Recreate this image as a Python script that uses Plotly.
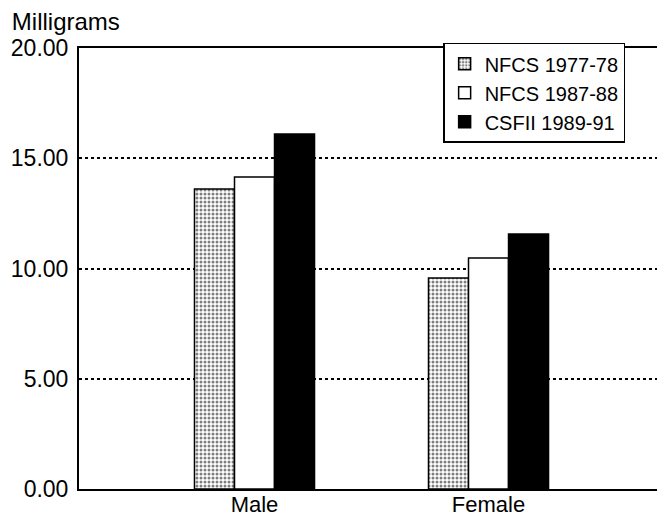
import plotly.graph_objects as go

categories = ["Male", "Female"]
series_names = ["NFCS 1977-78", "NFCS 1987-88", "CSFII 1989-91"]
nfcs_7778 = [13.6, 9.57]
nfcs_8788 = [14.15, 10.48]
csfii_8991 = [16.1, 11.56]
y_ticks = [0, 5, 10, 15, 20]
y_tick_labels = ["0.00", "5.00", "10.00", "15.00", "20.00"]

FONT = "Liberation Sans, Arial, Helvetica, sans-serif"

fig = go.Figure()
fig.add_trace(go.Bar(
    name=series_names[0], x=categories, y=nfcs_7778,
    marker=dict(color="white", line=dict(color="black", width=1.5),
                pattern=dict(shape=".", fgcolor="black", bgcolor="white", size=4, solidity=0.45)),
))
fig.add_trace(go.Bar(
    name=series_names[1], x=categories, y=nfcs_8788,
    marker=dict(color="white", line=dict(color="black", width=1.5)),
))
fig.add_trace(go.Bar(
    name=series_names[2], x=categories, y=csfii_8991,
    marker=dict(color="black", line=dict(color="black", width=1.5)),
))

fig.update_layout(
    width=657, height=519,
    margin=dict(l=79, r=0, t=48, b=30, autoexpand=False),
    paper_bgcolor="white", plot_bgcolor="white",
    barmode="group", bargap=0.487, bargroupgap=0,
    font=dict(family=FONT, color="black"),
    title=dict(text="Milligrams", xref="container", yref="container",
               x=0.018, y=0.975, xanchor="left", yanchor="top",
               font=dict(size=24, family=FONT, color="black")),
    legend=dict(x=0.63, y=1.012, xanchor="left", yanchor="top",
                bordercolor="black", borderwidth=1.5, bgcolor="white",
                font=dict(size=20, family=FONT), itemwidth=30),
    showlegend=True,
)
fig.update_xaxes(
    range=[-0.75, 1.72], showline=True, linecolor="black", linewidth=2,
    mirror=True, ticks="", tickfont=dict(size=22), showgrid=False,
    automargin=False, ticklabelstandoff=-5,
)
fig.update_yaxes(
    range=[0, 20], tickvals=y_ticks, ticktext=y_tick_labels,
    showline=True, linecolor="black", linewidth=2,
    showgrid=True, gridcolor="black", griddash="dot", gridwidth=1.5,
    tickfont=dict(size=23), ticks="", ticklabelstandoff=4, zeroline=False,
    automargin=False,
)

fig.write_html("out.html", config={"displayModeBar": False},
               post_script="document.body.style.margin='0';document.body.style.overflow='hidden';")
